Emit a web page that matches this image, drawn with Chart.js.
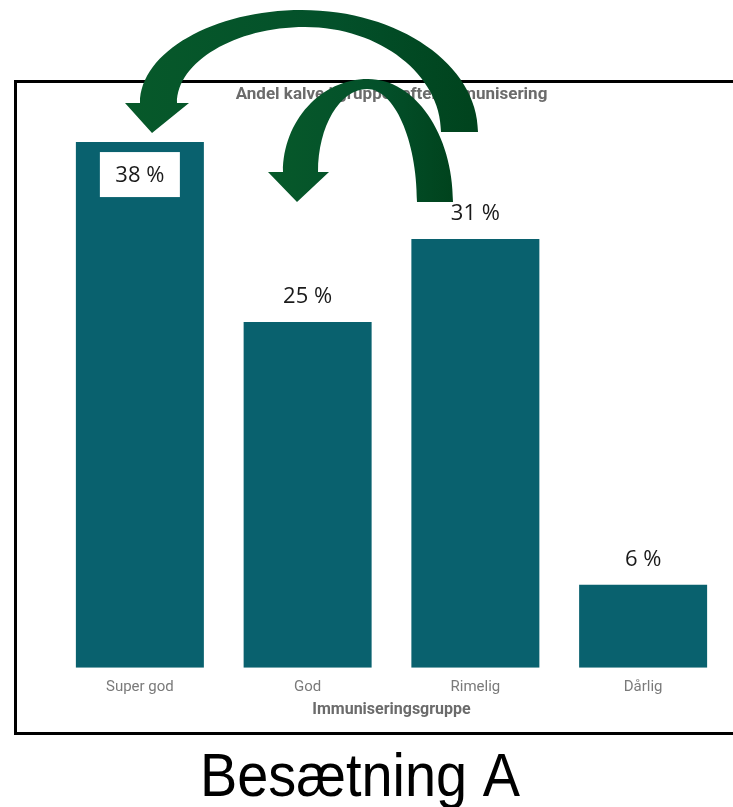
<!DOCTYPE html>
<html>
<head>
<meta charset="utf-8">
<script src="https://cdn.jsdelivr.net/npm/chart.js@4"></script>
<style>
  html, body { margin: 0; padding: 0; background: #fff; }
  #c { display: block; }
</style>
</head>
<body>
<canvas id="c" width="733" height="807"></canvas>
<script>
// Andel kalve pr. immuniseringsgruppe
const groups = ['Super god', 'God', 'Rimelig', 'Dårlig'];
const shares = [38, 25, 31, 6];
const caption = 'Besætning A';

const barColor = '#09616e';

// ramme rundt om diagrammet
const framePlugin = {
  id: 'frame',
  beforeDraw(chart) {
    const ctx = chart.ctx;
    ctx.save();
    ctx.fillStyle = '#fff';
    ctx.fillRect(0, 0, chart.width, chart.height);
    ctx.strokeStyle = '#000';
    ctx.lineWidth = 3;
    ctx.beginPath();
    ctx.moveTo(760, 81.5);
    ctx.lineTo(15.5, 81.5);
    ctx.lineTo(15.5, 733.5);
    ctx.lineTo(760, 733.5);
    ctx.stroke();
    ctx.restore();
  }
};

// procent over søjlerne, den højeste får en hvid boks inde i søjlen
const valueLabels = {
  id: 'valueLabels',
  afterDatasetsDraw(chart) {
    const ctx = chart.ctx;
    const meta = chart.getDatasetMeta(0);
    const data = chart.data.datasets[0].data;
    const top = Math.max(...data);
    ctx.save();
    ctx.font = '22px "Open Sans"';
    ctx.textAlign = 'center';
    ctx.textBaseline = 'middle';
    meta.data.forEach((bar, i) => {
      const txt = data[i] + ' %';
      if (data[i] === top) {
        ctx.fillStyle = '#fff';
        ctx.fillRect(bar.x - 40, bar.y + 10, 80, 45);
        ctx.fillStyle = '#1a1a1a';
        ctx.fillText(txt, bar.x, bar.y + 34);
      } else {
        ctx.fillStyle = '#1a1a1a';
        ctx.fillText(txt, bar.x, bar.y - 25);
      }
    });
    ctx.restore();
  }
};

function arrowFill(ctx, x0, x1) {
  const g = ctx.createLinearGradient(x0, 0, x1, 0);
  g.addColorStop(0, '#07592a');
  g.addColorStop(0.6, '#03502a');
  g.addColorStop(1, '#00431d');
  return g;
}

// de to buede pile og overskriften under rammen
const overlay = {
  id: 'overlay',
  afterDraw(chart) {
    const ctx = chart.ctx;
    ctx.save();

    // stor pil
    ctx.beginPath();
    ctx.moveTo(478, 132);
    ctx.bezierCurveTo(478, 65, 399, 10, 302, 10);
    ctx.bezierCurveTo(214, 10, 140, 52, 140, 103);
    ctx.lineTo(125, 103);
    ctx.lineTo(152, 133);
    ctx.lineTo(189, 103);
    ctx.lineTo(177, 103);
    ctx.bezierCurveTo(177, 62, 235, 27, 305, 27);
    ctx.bezierCurveTo(380, 27, 441, 75, 441, 132);
    ctx.closePath();
    ctx.fillStyle = arrowFill(ctx, 125, 478);
    ctx.fill();

    // lille pil
    ctx.beginPath();
    ctx.moveTo(453, 202);
    ctx.bezierCurveTo(453, 134, 415, 79, 368, 79);
    ctx.bezierCurveTo(321, 79, 283, 121, 283, 172);
    ctx.lineTo(268, 172);
    ctx.lineTo(297, 202);
    ctx.lineTo(329, 172);
    ctx.lineTo(318, 172);
    ctx.bezierCurveTo(318, 126, 340, 89, 367, 89);
    ctx.bezierCurveTo(394, 89, 417, 139, 417, 202);
    ctx.closePath();
    ctx.fillStyle = arrowFill(ctx, 268, 453);
    ctx.fill();

    ctx.fillStyle = '#000';
    ctx.font = '62px "Liberation Sans"';
    ctx.textAlign = 'center';
    ctx.textBaseline = 'alphabetic';
    ctx.fillText(caption, 360, 796, 320);
    ctx.restore();
  }
};

new Chart(document.getElementById('c'), {
  type: 'bar',
  data: {
    labels: groups,
    datasets: [{
      data: shares,
      backgroundColor: barColor,
      borderWidth: 0,
      categoryPercentage: 1,
      barPercentage: 0.763
    }]
  },
  options: {
    responsive: false,
    animation: false,
    layout: { padding: { left: 56, right: 6, top: 80, bottom: 85 } },
    plugins: {
      legend: { display: false },
      tooltip: { enabled: false },
      title: {
        display: true,
        text: 'Andel kalve i grupper efter immunisering',
        color: '#6b6b6b',
        font: { family: 'Roboto', size: 17, weight: 'bold' },
        padding: { top: 5, bottom: 9 }
      }
    },
    scales: {
      x: {
        grid: { display: false, drawTicks: false, tickLength: 0 },
        border: { display: false },
        ticks: {
          color: '#7a7a7a',
          padding: 10,
          font: { family: 'Roboto', size: 15 }
        },
        title: {
          display: true,
          text: 'Immuniseringsgruppe',
          color: '#6b6b6b',
          font: { family: 'Roboto', size: 16, weight: 'bold' },
          padding: { top: -5, bottom: 2 }
        }
      },
      y: {
        display: false,
        min: 0,
        max: 40
      }
    }
  },
  plugins: [framePlugin, valueLabels, overlay]
});
</script>
</body>
</html>
